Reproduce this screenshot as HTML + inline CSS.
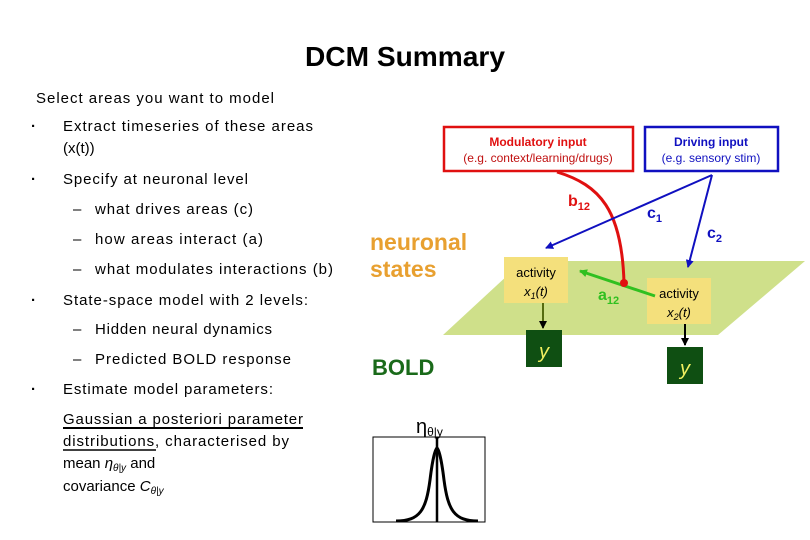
<!DOCTYPE html>
<html><head><meta charset="utf-8"><style>
html,body{margin:0;padding:0;background:#fff}
svg{display:block}
text{font-family:"Liberation Sans",sans-serif}
</style></head><body>
<svg width="810" height="540" viewBox="0 0 810 540" xmlns="http://www.w3.org/2000/svg">
<defs>
<marker id="ab" markerWidth="8" markerHeight="8" refX="7" refY="4" orient="auto" markerUnits="userSpaceOnUse"><path d="M0,0 L8,4 L0,8 z" fill="#1010c0"/></marker>
<marker id="ag" markerWidth="8" markerHeight="8" refX="7" refY="4" orient="auto" markerUnits="userSpaceOnUse"><path d="M0,0 L8,4 L0,8 z" fill="#30c020"/></marker>
<marker id="ak" markerWidth="8" markerHeight="8" refX="7" refY="4" orient="auto" markerUnits="userSpaceOnUse"><path d="M0,0 L8,4 L0,8 z" fill="#000"/></marker>
</defs>
<text x="405" y="66" font-size="28" font-weight="bold" text-anchor="middle" textLength="200" lengthAdjust="spacingAndGlyphs">DCM Summary</text>
<g font-size="15" fill="#000">
<text x="36" y="103" textLength="238">Select areas you want to model</text>
<text x="31" y="131" font-weight="bold">·</text><text x="63" y="131" textLength="250">Extract timeseries of these areas</text>
<text x="63" y="153">(x(t))</text>
<text x="31" y="184" font-weight="bold">·</text><text x="63" y="184" textLength="185">Specify at neuronal level</text>
<text x="73" y="214">–</text><text x="95" y="214" textLength="158">what drives areas (c)</text>
<text x="73" y="244">–</text><text x="95" y="244" textLength="168">how areas interact (a)</text>
<text x="73" y="274">–</text><text x="95" y="274" textLength="238">what modulates interactions (b)</text>
<text x="31" y="305" font-weight="bold">·</text><text x="63" y="305" textLength="245">State-space model with 2 levels:</text>
<text x="73" y="334">–</text><text x="95" y="334" textLength="177">Hidden neural dynamics</text>
<text x="73" y="364">–</text><text x="95" y="364" textLength="196">Predicted BOLD response</text>
<text x="31" y="394" font-weight="bold">·</text><text x="63" y="394" textLength="210">Estimate model parameters:</text>
<text x="63" y="424" textLength="240">Gaussian a posteriori parameter</text>
<line x1="63" y1="428" x2="303" y2="428" stroke="#000" stroke-width="2"/>
<text x="63" y="446" textLength="226">distributions, characterised by</text>
<line x1="63" y1="450" x2="156" y2="450" stroke="#000" stroke-width="1.5"/>
<text x="63" y="468">mean <tspan font-style="italic">η</tspan><tspan font-size="10" font-style="italic" dy="3">θ|y</tspan><tspan dy="-3"> and</tspan></text>
<text x="63" y="491">covariance <tspan font-style="italic">C</tspan><tspan font-size="10" font-style="italic" dy="3">θ|y</tspan></text>
</g>
<text x="416" y="433" font-size="20" font-family="Liberation Serif">η<tspan font-size="12" dy="3">θ|y</tspan></text>
<rect x="373" y="437" width="112" height="85" fill="none" stroke="#000" stroke-width="1"/>
<path d="M396,521 C420,521 426,510 430,480 C433,455 436,448 437,448 C438,448 441,455 444,480 C448,510 454,521 478,521" fill="none" stroke="#000" stroke-width="3"/>
<line x1="437" y1="437" x2="437" y2="522" stroke="#000" stroke-width="2.5"/>
<polygon points="443,335 523,261 805,261 718,335" fill="#cfe08a"/>
<rect x="504" y="257" width="64" height="46" fill="#f4e07c"/>
<rect x="647" y="278" width="64" height="46" fill="#f4e07c"/>
<text x="536" y="277" font-size="13" text-anchor="middle">activity</text>
<text x="536" y="296" font-size="13" text-anchor="middle" font-style="italic">x<tspan font-size="9" dy="3">1</tspan><tspan dy="-3">(t)</tspan></text>
<text x="679" y="298" font-size="13" text-anchor="middle">activity</text>
<text x="679" y="317" font-size="13" text-anchor="middle" font-style="italic">x<tspan font-size="9" dy="3">2</tspan><tspan dy="-3">(t)</tspan></text>
<line x1="543" y1="303" x2="543" y2="328" stroke="#556b10" stroke-width="2" marker-end="url(#ak)"/>
<line x1="685" y1="324" x2="685" y2="345" stroke="#000" stroke-width="2" marker-end="url(#ak)"/>
<rect x="526" y="330" width="36" height="37" fill="#0f4f12"/>
<rect x="667" y="347" width="36" height="37" fill="#0f4f12"/>
<text x="544" y="358" font-size="20" font-style="italic" fill="#f0f060" text-anchor="middle">y</text>
<text x="685" y="375" font-size="20" font-style="italic" fill="#f0f060" text-anchor="middle">y</text>
<line x1="655" y1="296" x2="580" y2="271" stroke="#30c020" stroke-width="3" marker-end="url(#ag)"/>
<path d="M557,172 C600,185 622,210 624,283" fill="none" stroke="#e01010" stroke-width="3"/>
<circle cx="624" cy="283" r="4" fill="#e01010"/>
<line x1="712" y1="175" x2="546" y2="248" stroke="#1010c0" stroke-width="2" marker-end="url(#ab)"/>
<line x1="712" y1="175" x2="688" y2="267" stroke="#1010c0" stroke-width="2" marker-end="url(#ab)"/>
<rect x="444" y="127" width="189" height="44" fill="#fff" stroke="#e01010" stroke-width="2.5"/>
<rect x="645" y="127" width="133" height="44" fill="#fff" stroke="#1010c0" stroke-width="2.5"/>
<text x="538" y="146" font-size="12" font-weight="bold" fill="#e01010" text-anchor="middle">Modulatory input</text>
<text x="538" y="162" font-size="12" fill="#c01010" text-anchor="middle">(e.g. context/learning/drugs)</text>
<text x="711" y="146" font-size="12" font-weight="bold" fill="#1010c0" text-anchor="middle">Driving input</text>
<text x="711" y="162" font-size="12" fill="#1010c0" text-anchor="middle">(e.g. sensory stim)</text>
<text x="568" y="206" font-size="16" font-weight="bold" fill="#e01010">b<tspan font-size="11" dy="4">12</tspan></text>
<text x="647" y="218" font-size="16" font-weight="bold" fill="#1010c0">c<tspan font-size="11" dy="4">1</tspan></text>
<text x="707" y="238" font-size="16" font-weight="bold" fill="#1010c0">c<tspan font-size="11" dy="4">2</tspan></text>
<text x="598" y="300" font-size="16" font-weight="bold" fill="#30c020">a<tspan font-size="11" dy="4">12</tspan></text>
<text x="370" y="250" font-size="23" font-weight="bold" fill="#e8a030">neuronal</text>
<text x="370" y="277" font-size="23" font-weight="bold" fill="#e8a030">states</text>
<text x="372" y="375" font-size="22" font-weight="bold" fill="#1a6a1a">BOLD</text>
</svg>
</body></html>
